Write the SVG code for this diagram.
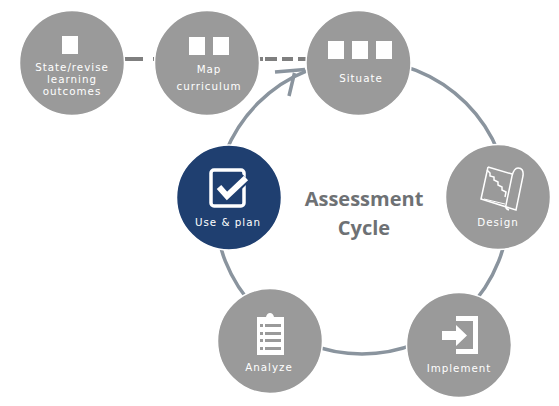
<svg xmlns="http://www.w3.org/2000/svg" width="559" height="406" viewBox="0 0 559 406">
<style>
.n{fill:#9a9a9a;stroke:#fff;stroke-width:1.5}
.t{font-family:"DejaVu Sans","Open Sans",sans-serif;font-size:10.300px;fill:#fff;text-anchor:middle;letter-spacing:1px}
.s{fill:#fff}
.h{font-family:"Open Sans","Liberation Sans",sans-serif;font-size:20px;font-weight:700;fill:#6e7174;text-anchor:middle}
</style>
<rect width="559" height="406" fill="#fff"/>
<g id="connectors" fill="none">
<circle cx="362" cy="207" r="147" stroke="#8a949e" stroke-width="3.500"/>
<path d="M275 72L305 69.500M289 96L294.500 73" stroke="#8a949e" stroke-width="3.500"/>
<path d="M124 59H143M153 59H155M259 59H263M265 59H277M282 59H293M298 59H306" stroke="#7f7f7f" stroke-width="4"/>
</g>
<g id="state"><circle class="n" cx="72" cy="63" r="52.500"/><rect class="s" x="62" y="36" width="16" height="18"/>
<text class="t"><tspan x="72" y="70.800">State/revise</tspan><tspan x="72" y="83">learning</tspan><tspan x="72" y="95.200">outcomes</tspan></text></g>
<g id="map"><circle class="n" cx="207" cy="63" r="52.500"/><rect class="s" x="189" y="37" width="16" height="18"/><rect class="s" x="213" y="37" width="16" height="18"/>
<text class="t"><tspan x="209" y="73">Map</tspan><tspan x="209" y="89.500">curriculum</tspan></text></g>
<g id="situate"><circle class="n" cx="358.500" cy="63" r="52.500"/><rect class="s" x="328" y="41" width="16" height="18"/><rect class="s" x="352" y="41" width="16" height="18"/><rect class="s" x="376" y="41" width="16" height="18"/>
<text class="t" x="361" y="82">Situate</text></g>
<g id="design"><circle class="n" cx="498" cy="197" r="52.500"/>
<g fill="none" stroke="#fff"><path d="M488 167L481 199L516 210L523 176Q524 168 518 168Q514 168 512 176L506 205Q505 209 509 210M488 167L512 174" stroke-width="1.500"/><path d="M484 199L505 204" stroke-width="1"/><path d="M487 170L490 173L490 176L494 177L494 180L498 182L498 185L502 187L502 190L506 192L505 197" stroke-width="1.500"/></g>
<text class="t" x="498" y="226">Design</text></g>
<g id="implement"><circle class="n" cx="459" cy="345" r="52.500"/>
<path class="s" d="M456 316H478V354H456V349H473V321H456Z"/><path class="s" d="M442 331H456V325L467 335.500L456 346V340H442Z"/>
<text class="t" x="459" y="372">Implement</text></g>
<g id="analyze"><circle class="n" cx="270" cy="341" r="52.500"/>
<path class="s" d="M258 317H266Q267 313 270 313Q273 313 274 317H284V355H257V317Z"/>
<g fill="#9a9a9a"><rect x="260" y="324" width="3" height="3"/><rect x="265" y="324" width="16" height="3"/><rect x="260" y="332" width="3" height="3"/><rect x="265" y="332" width="16" height="3"/><rect x="260" y="339" width="3" height="3"/><rect x="265" y="339" width="16" height="3"/><rect x="260" y="347" width="3" height="3"/><rect x="265" y="347" width="16" height="3"/></g>
<text class="t" x="269" y="371">Analyze</text></g>
<g id="useplan"><circle cx="229" cy="197.500" r="52.500" fill="#1f3f70" stroke="#fff" stroke-width="1.500"/>
<rect x="211" y="170" width="33" height="36" rx="3" fill="none" stroke="#fff" stroke-width="3.500"/>
<path d="M219 187L227 196L246 178" fill="none" stroke="#1f3f70" stroke-width="10"/>
<path d="M219 187L227 196L246 178" fill="none" stroke="#fff" stroke-width="6"/>
<text class="t" x="228" y="226">Use &amp; plan</text></g>
<g id="title"><text class="h" x="364" y="206">Assessment</text><text class="h" x="364" y="235">Cycle</text></g>
</svg>
